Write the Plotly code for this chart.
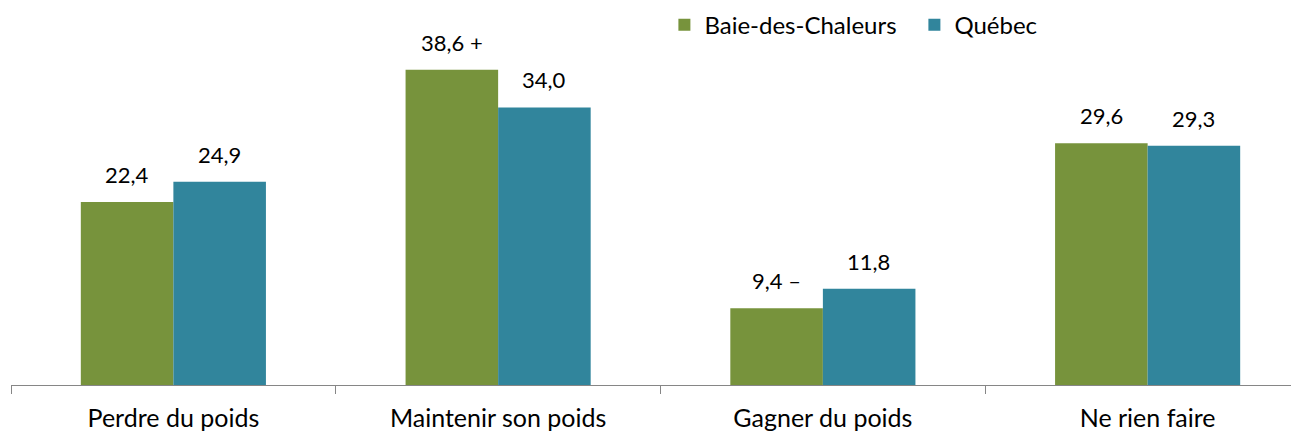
import plotly.graph_objects as go

categories = ["Perdre du poids", "Maintenir son poids", "Gagner du poids", "Ne rien faire"]
region_values = [22.4, 38.6, 9.4, 29.6]
region_marks = ["", " +", " \u2013", ""]
quebec_values = [24.9, 34.0, 11.8, 29.3]

GREEN = "#77933C"
TEAL = "#31859C"
FONT = "Lato, Calibri, Arial, sans-serif"
BAR_HALF = 46  # half a bar width in px, to centre the value labels


def fmt(v, mark=""):
    return f"{v:.1f}".replace(".", ",") + mark


fig = go.Figure()
fig.add_trace(go.Bar(name="Baie-des-Chaleurs", x=categories, y=region_values,
                     marker_color=GREEN, marker_line_width=0))
fig.add_trace(go.Bar(name="Québec", x=categories, y=quebec_values,
                     marker_color=TEAL, marker_line_width=0))

# value labels sit a little above each bar
for cat, v, m in zip(categories, region_values, region_marks):
    fig.add_annotation(x=cat, y=v, text=fmt(v, m), showarrow=False,
                       xshift=-BAR_HALF, yshift=12, yanchor="bottom",
                       font=dict(size=22, color="#000000"))
for cat, v in zip(categories, quebec_values):
    fig.add_annotation(x=cat, y=v, text=fmt(v), showarrow=False,
                       xshift=BAR_HALF, yshift=12, yanchor="bottom",
                       font=dict(size=22, color="#000000"))

# the original axis runs off the right edge, so the figure is a bit wider
fig.update_layout(
    width=1310,
    height=433,
    barmode="group",
    bargap=0.43,
    bargroupgap=0,
    plot_bgcolor="white",
    paper_bgcolor="white",
    margin=dict(l=3, r=8, t=22, b=56, autoexpand=False),
    font=dict(family=FONT, size=25, color="#000000"),
    legend=dict(
        orientation="h",
        x=0.503,
        y=1.014,
        xanchor="left",
        yanchor="middle",
        font=dict(size=24),
        itemwidth=30,
        entrywidth=205,
        traceorder="normal",
    ),
    xaxis=dict(
        showline=True,
        linecolor="#868686",
        linewidth=1,
        ticks="outside",
        tickson="boundaries",
        ticklen=8,
        tickcolor="#868686",
        ticklabelstandoff=11,
        tickfont=dict(size=25),
    ),
    yaxis=dict(range=[0, 43.48], visible=False, showgrid=False),
)

fig.write_html("out.html")
